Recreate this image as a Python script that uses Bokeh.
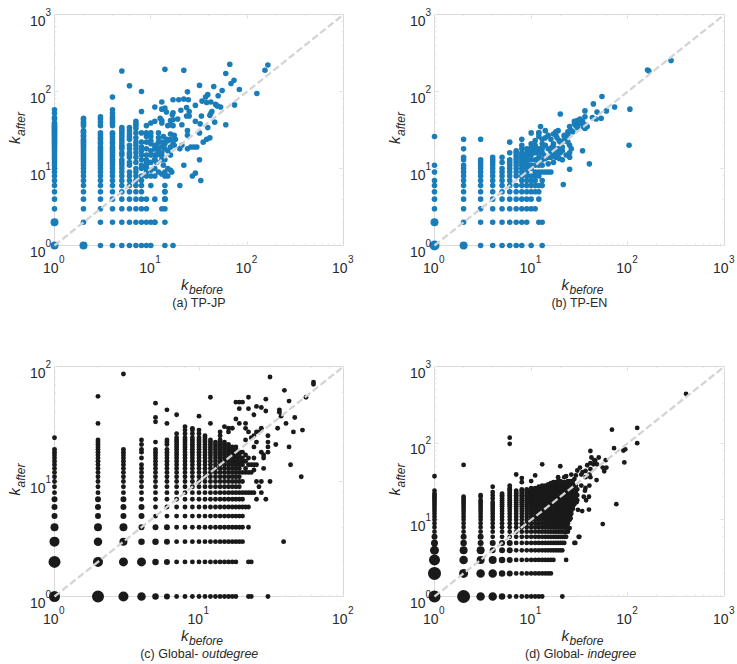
from bokeh.plotting import figure
from bokeh.layouts import column, row
from bokeh.models import Range1d, LogAxis, CustomJSTickFormatter
from bokeh.core.properties import value
from bokeh.embed import file_html
from bokeh.resources import INLINE

# ---------- panel (a) TP-JP ----------
a_cols = {
 1:[1,2,3,4,5,6,7,8,9,10,11,12,13,14,15,16,17,18,19,20,21,22,23,24,25,26,27,28,29,30,31,32,33,34,35,36,38,39,44,46,52,58],
 2:[1,2,3,4,5,6,7,8,9,10,11,12,13,14,15,16,17,18,19,20,21,22,23,24,26,27,29,30,31,36,38,40,43,45],
 3:[1,2,3,4,5,6,7,8,9,10,11,12,13,14,15,16,17,18,19,21,22,24,25,27,29,36,40,44,47],
 4:[1,2,3,4,5,6,7,8,9,10,11,12,13,14,15,16,17,18,19,21,22,24,26,28,29,36,39,41,44,47,52,58,85],
 5:[1,2,3,4,5,6,7,8,9,10,11,12,13,15,16,18,19,20,22,24,26,28,30,32,34,185],
 6:[1,2,3,4,5,6,7,8,9,11,12,14,15,16,18,20,24,26,28,31,34,119],
 7:[1,2,3,4,5,6,7,8,9,10,12,14,16,18,20,22,25,29,33,36,38,41],
 8:[1,2,3,4,5,6,7,8,10,11,13,15,17,19,22,29,55,100],
 9:[1,2,3,4,8,9,10,11,12,13,15,18,22,26,29,36],
 10:[1,2,6,8,9.5,12,15,17,21,23,26,29,39],
 11:[2,4,8,10,13,15,18,20,41,63],
}
a_x = [14,22,66,60,164,153,32,45,68,73,83,126,24,55,50,39,37,34,38,42,47,49,53,74,13,17,19.5,22,24.5,29,
       13,14,14.5,17,16.7,20.5,23.5,25,23.5,25,19,33.5,43,41,42,29,32.5,46,60,39,21,12.5,13,13,15,16,17,16,17,
       12,12,12,13.5,16,14.5,13,17.5,18,16,17,16,17.5,20,21,24,24,32,35,38,41,24,26,28,30,32,22,29,27,33,20,
       11,11.5,12,13,14,11.5,13,11,11.5,13.5,15,16,12,13,14,15,14,16.5,14,14,14,14,17,14,14,14,11,13,14,14,
       12,13,13,14,15,15,14,16]
a_y = [194,189,226,171,221,189,120,116,127,140,106,94,99,103,88,91,85,75,72,73,68,65,63,67,73,78,78,80,78,66,
       59,61,54,53,50,57,62,55,48,48,44,48,55,49,52,41,38,40,37,34,37,45,42,39,36,42,43,37,36,
       29,25,22,26,28,24,22,27,24,24,21,19,20,18,20,31,27,29,22,24,25,18,19,19,19,13,11,8.7,8,7,6,
       18,20,18,16,18,15,14.5,13,12,11,10,9.5,9,8.5,9,8,8,9,6,5,4,3,1,4,1,2,2,3,4,5,
       16,13,19,21,17,23,13,15]
a_big = {(1,1):8, (1,2):8, (2,1):8}

# ---------- panel (b) TP-EN ----------
b_cols = {
 1:[1,2,3,4,5,6,7,9,11,26],
 2:[1,2,3,4,5,6,7,8,9,10,11,13,14,18,24],
 3:[1,2,3,4,5,6,7,8,9,10,11,12,13,24],
 4:[1,2,3,4,5,6,7,8,9,10,11,12,13,14],
 5:[1,2,3,4,5,6,7,8,9,10,12,14],
 6:[1,2,3,4,5,6,7,8,9,10,11,12,13,16,22],
 7:[1,2,3,4,5,6,8,9,10,11,12,13,14,15,16,17],
 8:[1,2,3,4,5,6,7,8,9,10,11,12,13,14,15,16,18,20,24],
 9:[2,3,4,5,6,7,8,9,10,11,12,13,14,15,16,18],
 10:[1,3,4,5,6,7,8,10,11,13,15,17,19,21,29],
 11:[3,5,6,7,8,9,11,13,16,18,20,23],
 12:[2,4,5,6,8,9,11,12,14,16,18,26,29],
 13:[1,2,6,7,9,11,13,16,18,21,24],
}
b_x = [54,44,36,48,60,73,105,20,103,34,40,25,21.5,53,47,43,36,32,30,28,34,28,31,29,38,36,34.5,25,12.5,14,
       12,19,18,15,14,17,22,24,26,22,18.5,17,19.5,25,26,25,23,25,16.5,16,18,20,21,19.5,17,14,15,13.5,12.5,
       14,15,16,15,14,16,17,19,21,15,17,18,160,165,280,33,36,24,23,20,22,18,16,19,21,24,27,30]
b_y = [86,69,56,54,56,63,59,51,20,17,11.5,9.8,6.2,45,44,46,47,44,42,41,41,38,38,36,35,33,35,35,35,31,
       29,31,30,27,25,28,27,28,31,23,25,21,23,20,18,16,15,14,19,16.5,16,16,19,13.5,12,13.5,14,15,18,
       9,9,9,11.5,20,14,15,14,13,18,19,14,190,185,252,40,37,30,25,22,26,27,24,18,17,22,30,34]
b_big = {(1,1):10, (1,2):8, (2,1):8}

# ---------- panel (c) Global outdegree ----------
c_run = [1,2,3,4,5,6,7,8,9,10,11,12,13,14,15,16,17,18,19,20,21,22,23,24,25,26,27,28,29,30]
c_cols = {
 1:c_run[:19]+[24],
 2:c_run[:23]+[32,55],
 3:c_run[:19]+[86],
 4:c_run[:14]+[16,18,19,21,23],
 5:c_run[:19]+[22,33,36,48],
 6:c_run[:19]+[21,22,23,32,42],
 7:c_run[:24]+[26,38],
 8:c_run[:24]+[26,28,30],
 9:c_run[:24]+[26,28,29],
 10:c_run[:24]+[26,28,37],
 11:c_run[:25],
 12:c_run[:23]+[32,54],
 13:c_run[:22],
 14:c_run[:23]+[25,27],
 15:c_run[:22]+[30],
 16:c_run[:21]+[27,29],
 17:c_run[:20]+[29],
 18:c_run[:20]+[35,49],
 19:[3,4,5,6,7,8,9,10,11,12,13,14,15,16,17,18,32,43,49],
 20:[3,4,5,6,7,8,10,12,14,15,16,18,49],
 21:[6,8,12,13,15,17,23,29,32],
 22:[1,2,4,6,8,12,14,16,27,43,54],
 23:[1,2,8,12,14,24],
 24:[8,12.6,14,16,20,25,38],
 25:[7,10,14,22,45],
 26:[9,27],
 27:[8,10,18,29,44],
 28:[13,16,17],
 29:[7,41,52],
 30:[1,18,20,22,25],
}
c_x = [31,62,62,39,42,55,37,40,36,35,45,52,46,34,42,43,51,31,38.5,36,25]
c_y = [81,70,73,62,50,54,37,32,42,29,27,28,36,21,20,14,11,10,3,40,27]
c_big = {(1,1):11,(2,1):12,(3,1):10,(4,1):8.5,(5,1):6.5,(6,1):6,
         (1,2):12,(2,2):10,(3,2):9,(4,2):9,(5,2):6.5,(6,2):6,
         (1,3):10,(2,3):8.5,(3,3):8,(4,3):6.5,(5,3):6.5,(6,3):6,
         (1,4):8,(2,4):8,(3,4):8,(4,4):6,(5,4):6,(6,4):6,
         (1,5):6,(2,5):6,(3,5):6,(4,5):6,(1,6):6,(2,6):6,(3,6):6,(4,6):6,(1,7):6,(2,7):6,(3,7):6}

# ---------- panel (d) Global indegree ----------
d_run = [1,2,3,4,5,6,7,8,9,10,11,12,13,14,15,16,17,18,19,20,21,22,23,24,25,26,27,28,29,30,31,32,33]
d_mid = [6,7,8,9,10,11,12,13,14,15,16,17,18,19,20,21,22,23,24,25,26,27,28,29,30,31,32,33]
d_cols = {
 1:d_run[:22]+[24,37],
 2:d_run[:19]+[20,52],
 3:d_run[:18]+[20,21],
 4:d_run[:17]+[19,21,23,27],
 5:d_run[:22],
 6:d_run[:26]+[28,98,118],
 7:d_run[:24]+[39],
 8:d_run[:25]+[31,35],
 9:d_run[:25],
 10:d_run[:26]+[32],
 11:d_run[:26]+[38],
 12:d_run[:27],
 13:d_run[:5]+d_mid[:23]+[53],
 14:[2,3,4,5]+d_mid[:23],
 15:[2,3,4,5]+d_mid[:24],
 16:[2,3,4,5]+d_mid[:25],
 17:[3,4,5]+d_mid[:26],
 18:[4,5]+d_mid[:26],
 19:[4,5]+d_mid[:27]+[36],
 20:[4,5]+d_mid[:27]+[50],
 21:[1,4,5]+d_mid[:26],
 22:[5]+d_mid[:26]+[36],
 23:[3,6,7,8,9,10,11,12,13,14,15,16,17,18,19,20,21,22,23,24,25,26,27,28,29,30,37],
 24:[7,8,9,10,11,12,13,14,15,16,17,18,19,20,21,22,23,24,25,26,27,28,30,32],
 25:[10,11,12,13,14,15,16,17,18,19,20,21,22,23,24,25,26,28,32],
 26:[12,13,14,15,16,17,18,19,20,21,22,23,24,25,26,28,30,32,39],
 27:[14,15,16,17,18,19,20,22,24,26,29,32],
 28:[16,17,19,21,24,27,34],
 29:[17,20,23,28,38],
 30:[18,21,25,44],
}
d_x = [68.5,125,125,72,94,90,92,41,59,60,57,47.5,76,55,42,41,46,44,48,38,32,33,36.5,41,40,36.5,41,40,36.5,33,36,39.6,37,39.6,33.7,30.5,35,29.5,25.6,23.6,25,22.7,31.5,28.6,28,31,400,34,45,50,55]
d_y = [150,158,100,86,83,80,56,79,60,48,43,33,16,8.8,65,55,59,53,53,51.5,48,39,43.5,46,39,36,36,28,26,28,24,20,18,13.6,13,13.5,20,17,10.5,8,7.8,6.9,6,5,5,6,440,42,60,65,48]
d_big = {(1,1):12,(2,1):13,(3,1):8.5,(4,1):8.5,(5,1):6.5,
         (1,2):13,(2,2):9,(3,2):8.5,(4,2):8.5,(5,2):6.5,(6,2):6,
         (1,3):11,(2,3):8.5,(3,3):8,(4,3):8,(5,3):6.5,(6,3):6,
         (1,4):9,(2,4):8,(3,4):8,(4,4):6,(5,4):6,(6,4):6,
         (1,5):7,(2,5):6.5,(3,5):6,(4,5):6,(5,5):6,(6,5):6,
         (1,6):6,(2,6):6,(3,6):6}

# ---------- axis labels ----------
x_label_main = "k"
x_label_sub = "before"
y_label_main = "k"
y_label_sub = "after"
captions = ["(a) TP-JP", "(b) TP-EN", "(c) Global- ", "(d) Global- "]
captions_it = ["", "", "outdegree", "indegree"]

BLUE = "#197dba"
BLACK = "#1a1a1a"
GRID = "#dadada"
FONT = "Liberation Sans"
TXT = "#2a2a2a"


def lab(p, x, y, text, dx, dy, size, align="left", italic=False, angle=0):
    p.text([x], [y], text=[text], x_offset=dx, y_offset=-dy,
           text_font=value(FONT), text_font_size=f"{size}px",
           text_color=TXT, text_align=align, text_baseline="alphabetic",
           text_font_style="italic" if italic else "normal",
           angle=angle, angle_units="deg", level="overlay")


def panel(cols, ex, ey, big, color, small, ymax, xmax, ticks_x, ticks_y, cap, cap_it,
          bl, br, bt, bb, fw, fh, cap_dx, base_size):
    sx, sy, bx, by, bs = [], [], [], [], []
    for k, vals in cols.items():
        for v in vals:
            if (k, v) in big:
                bx.append(k); by.append(v); bs.append(big[(k, v)])
            else:
                sx.append(k); sy.append(v)
    sx += ex; sy += ey
    p = figure(width=bl+fw+br, height=bt+fh+bb, x_axis_type="log", y_axis_type="log",
               x_range=Range1d(1, xmax), y_range=Range1d(1, ymax),
               output_backend="svg", toolbar_location=None,
               min_border_left=bl, min_border_right=br, min_border_top=bt, min_border_bottom=bb,
               frame_width=fw, frame_height=fh, outline_line_color=None)
    p.grid.visible = False
    blank = CustomJSTickFormatter(code="return ''")
    p.add_layout(LogAxis(), "above")
    p.add_layout(LogAxis(), "right")
    for ax in list(p.axis):
        ax.formatter = blank
        ax.major_label_standoff = 0
        ax.axis_line_color = GRID
        ax.major_tick_line_color = GRID
        ax.minor_tick_line_color = "#e6e6e6"
        ax.major_tick_in = 4
        ax.major_tick_out = 0
        ax.minor_tick_in = 2
        ax.minor_tick_out = 0
        ax.major_label_text_font_size = "1px"
    p.scatter(sx, sy, size=small, color=color, line_width=0, level="overlay")
    p.scatter(bx, by, size=bs, color=color, line_width=0, level="overlay")
    dmax = min(xmax, ymax)
    p.line([1, dmax], [1, dmax], line_color="#d4d4d4", line_width=2.3, line_dash="7 3", level="overlay")
    for t in ticks_x:
        lab(p, t, 1, "10", 4, -22, base_size, "right")
        lab(p, t, 1, str(len(str(t))-1), 4.5, -13, 10)
    for t in ticks_y:
        lab(p, 1, t, "10", -9, -6, base_size, "right")
        lab(p, 1, t, str(len(str(t))-1), -9, 3, 10)
    cx = xmax ** 0.5
    cy = ymax ** 0.5
    lab(p, cx, 1, x_label_main, -18, -39, 15, italic=True)
    lab(p, cx, 1, x_label_sub, -10, -44.5, 12, italic=True)
    lab(p, 1, cy, y_label_main, -40, -14, 15, italic=True, angle=90)
    lab(p, 1, cy, y_label_sub, -34, -6, 12, italic=True, angle=90)
    lab(p, cx, 1, cap, cap_dx, -57, 12.5, "center" if not cap_it else "right")
    if cap_it:
        lab(p, cx, 1, cap_it, cap_dx, -57, 12.5, italic=True)
    return p


pa = panel(a_cols, a_x, a_y, a_big, BLUE, 5.6, 1000, 1000, [1, 10, 100, 1000], [1, 10, 100, 1000],
           captions[0], captions_it[0], 54, 29, 14, 67, 289, 231, 0, 14)
pb = panel(b_cols, b_x, b_y, b_big, BLUE, 5.6, 1000, 1000, [1, 10, 100, 1000], [1, 10, 100, 1000],
           captions[1], captions_it[1], 62, 11, 14, 67, 290, 231, 0, 14)
pc = panel(c_cols, c_x, c_y, c_big, BLACK, 4.9, 100, 100, [1, 10, 100], [1, 10, 100],
           captions[2], captions_it[2], 54, 29, 54, 67, 289, 230, 3, 14)
pd = panel(d_cols, d_x, d_y, d_big, BLACK, 4.8, 1000, 1000, [1, 10, 100, 1000], [1, 10, 100, 1000],
           captions[3], captions_it[3], 62, 11, 54, 67, 290, 230, 8, 14)

page = column(row(pa, pb, spacing=0), row(pc, pd, spacing=0), spacing=0)
open("out.html", "w").write(file_html(page, INLINE))
